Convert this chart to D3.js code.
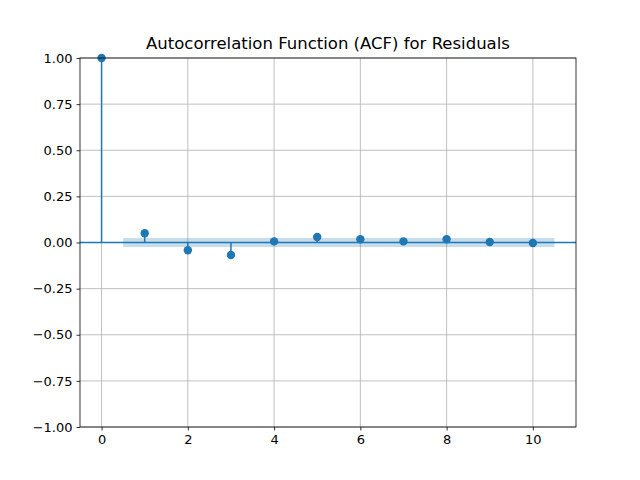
<!DOCTYPE html>
<html>
<head>
<meta charset="utf-8">
<script src="https://d3js.org/d3.v7.min.js"></script>
<style>
  body { margin: 0; background: #fff; }
  text { font-family: "DejaVu Sans", sans-serif; }
</style>
</head>
<body>
<svg id="chart" width="640" height="480"></svg>
<script>
const lags = [0, 1, 2, 3, 4, 5, 6, 7, 8, 9, 10];
const acf = [1.0, 0.05, -0.042, -0.068, 0.006, 0.03, 0.018, 0.006, 0.018, 0.003, -0.003];
const confHalf = 0.024;
const xTicks = [0, 2, 4, 6, 8, 10];
const yTicks = [-1, -0.75, -0.5, -0.25, 0, 0.25, 0.5, 0.75, 1];

const svg = d3.select("#chart");
const L = 80, R = 576, T = 58, B = 427;
const blue = "#1f77b4";

const x = d3.scaleLinear().domain([-0.5, 11]).range([L, R]);
const y = d3.scaleLinear().domain([-1, 1]).range([B, T]);

// grid
svg.append("g").selectAll("line").data(xTicks).enter().append("line")
  .attr("x1", d => x(d)).attr("x2", d => x(d)).attr("y1", T).attr("y2", B)
  .attr("stroke", "#b0b0b0").attr("stroke-width", 0.8);
svg.append("g").selectAll("line").data(yTicks).enter().append("line")
  .attr("x1", L).attr("x2", R).attr("y1", d => y(d)).attr("y2", d => y(d))
  .attr("stroke", "#b0b0b0").attr("stroke-width", 0.8);

// confidence band
svg.append("path")
  .datum([0.5].concat(lags.slice(1)).concat([10.5]))
  .attr("d", d3.area().x(d => x(d)).y0(y(-confHalf)).y1(y(confHalf)))
  .attr("fill", blue).attr("fill-opacity", 0.25);

// zero line
svg.append("line").attr("x1", L).attr("x2", R).attr("y1", y(0)).attr("y2", y(0))
  .attr("stroke", blue).attr("stroke-width", 1.5);

// stems
svg.append("g").selectAll("line").data(lags).enter().append("line")
  .attr("x1", d => x(d)).attr("x2", d => x(d))
  .attr("y1", y(0)).attr("y2", (d, i) => y(acf[i]))
  .attr("stroke", blue).attr("stroke-width", 1.5);

// markers
svg.append("g").selectAll("circle").data(lags).enter().append("circle")
  .attr("cx", d => x(d)).attr("cy", (d, i) => y(acf[i])).attr("r", 4.2)
  .attr("fill", blue);

// axes
const xAxis = svg.append("g").attr("transform", `translate(0,${B})`)
  .call(d3.axisBottom(x).tickValues(xTicks).tickSize(3.5).tickPadding(4));
const yAxis = svg.append("g").attr("transform", `translate(${L},0)`)
  .call(d3.axisLeft(y).tickValues(yTicks)
    .tickFormat(d => d3.format(".2f")(d).replace("-", "\u2212")).tickSize(3.5).tickPadding(4));
[xAxis, yAxis].forEach(a => {
  a.select(".domain").remove();
  a.selectAll("text").attr("font-size", 13).attr("fill", "#000")
    .style("font-family", "DejaVu Sans, sans-serif");
  a.selectAll("line").attr("stroke", "#000").attr("stroke-width", 0.8);
});

svg.append("rect").attr("x", L).attr("y", T).attr("width", R - L).attr("height", B - T)
  .attr("fill", "none").attr("stroke", "#000").attr("stroke-width", 0.8);

svg.append("text").attr("x", (L + R) / 2).attr("y", T - 9).attr("text-anchor", "middle")
  .attr("font-size", 16.5).text("Autocorrelation Function (ACF) for Residuals");
</script>
</body>
</html>
